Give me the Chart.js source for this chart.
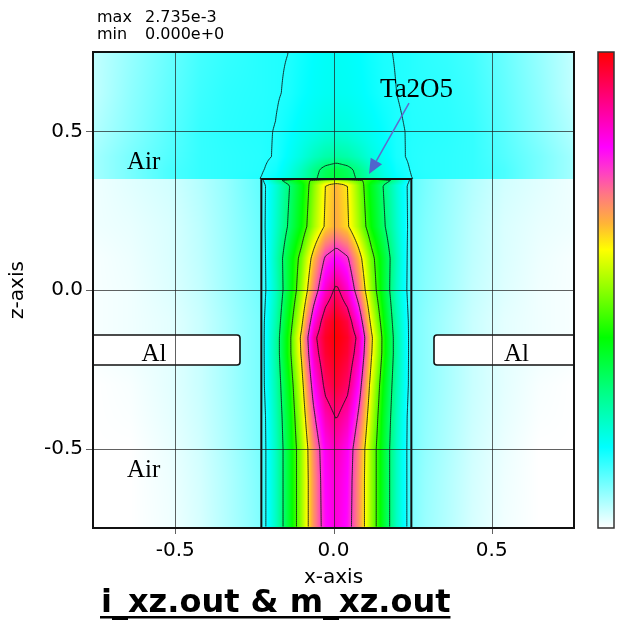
<!DOCTYPE html>
<html><head><meta charset="utf-8">
<script src="https://cdn.jsdelivr.net/npm/chart.js@4.4.1/dist/chart.umd.min.js"></script>
<style>html,body{margin:0;padding:0;background:#fff;}#wrap{width:628px;height:620px;}</style>
</head><body><div id="wrap"><canvas id="c" width="628" height="620"></canvas></div>
<script>
// ---- data (field normalised to max) ----
const FIELD_MAX_TEXT = '2.735e-3';
const FIELD_MIN_TEXT = '0.000e+0';
const X_TICKS = [-0.5, 0, 0.5];
const Z_TICKS = [-0.5, 0, 0.5];
const X_NODES = [-0.76,-0.64,-0.52,-0.42,-0.34,-0.28,-0.230,-0.226,-0.181,-0.141,-0.101,-0.061,-0.026,0.009,0.044,0.079,0.119,0.159,0.199,0.244,0.248,0.29,0.36,0.44,0.54,0.65,0.76];
const Z_NODES = [0.75,0.62,0.5,0.42,0.38,0.351,0.349,0.33,0.2,0.1,0,-0.1,-0.15,-0.2,-0.3,-0.4,-0.5,-0.6,-0.75];
const FIELD = [
 [0.04,0.07,0.10,0.125,0.135,0.14,0.145, 0.145,0.148,0.15,0.16,0.17,0.175,0.178,0.175,0.17,0.16,0.152,0.149,0.146, 0.145,0.14,0.135,0.125,0.10,0.07,0.04],
 [0.04,0.075,0.105,0.13,0.14,0.143,0.145, 0.145,0.148,0.153,0.165,0.175,0.18,0.182,0.18,0.175,0.165,0.155,0.15,0.146, 0.145,0.143,0.14,0.13,0.105,0.075,0.04],
 [0.05,0.08,0.11,0.135,0.142,0.145,0.147, 0.147,0.151,0.165,0.18,0.19,0.2,0.205,0.2,0.19,0.18,0.167,0.153,0.148, 0.147,0.145,0.142,0.135,0.11,0.08,0.05],
 [0.06,0.09,0.115,0.135,0.14,0.143,0.145, 0.146,0.152,0.175,0.2,0.23,0.25,0.26,0.25,0.23,0.2,0.178,0.155,0.147, 0.146,0.143,0.14,0.135,0.115,0.09,0.06],
 [0.06,0.09,0.12,0.135,0.14,0.143,0.146, 0.148,0.16,0.19,0.23,0.28,0.32,0.34,0.32,0.28,0.23,0.19,0.162,0.149, 0.147,0.143,0.14,0.135,0.12,0.09,0.06],
 [0.06,0.09,0.12,0.135,0.14,0.145,0.15, 0.152,0.17,0.2,0.24,0.29,0.33,0.35,0.33,0.29,0.24,0.2,0.17,0.152, 0.15,0.145,0.14,0.135,0.12,0.09,0.06],
 [0.01,0.02,0.03,0.05,0.07,0.09,0.105, 0.14,0.27,0.36,0.42,0.46,0.49,0.5,0.49,0.46,0.42,0.36,0.27,0.14, 0.105,0.09,0.07,0.05,0.03,0.02,0.01],
 [0.01,0.02,0.03,0.05,0.07,0.09,0.105, 0.13,0.21,0.295,0.38,0.5,0.6,0.64,0.6,0.5,0.38,0.295,0.21,0.13, 0.105,0.09,0.07,0.05,0.03,0.02,0.01],
 [0.01,0.015,0.025,0.045,0.067,0.085,0.1, 0.13,0.22,0.31,0.4,0.52,0.61,0.65,0.61,0.52,0.4,0.31,0.22,0.13, 0.1,0.085,0.067,0.045,0.025,0.015,0.01],
 [0.005,0.012,0.024,0.043,0.065,0.083,0.098, 0.12,0.24,0.36,0.48,0.64,0.76,0.8,0.76,0.64,0.48,0.36,0.24,0.12, 0.098,0.083,0.065,0.043,0.024,0.012,0.005],
 [0.005,0.01,0.022,0.04,0.063,0.081,0.095, 0.12,0.23,0.36,0.51,0.7,0.84,0.92,0.84,0.7,0.51,0.36,0.23,0.12, 0.095,0.081,0.063,0.04,0.022,0.01,0.005],
 [0.005,0.01,0.018,0.036,0.058,0.077,0.09, 0.13,0.25,0.4,0.58,0.82,0.95,0.99,0.95,0.82,0.58,0.4,0.25,0.13, 0.09,0.077,0.058,0.036,0.018,0.01,0.005],
 [0.005,0.01,0.018,0.036,0.058,0.077,0.09, 0.13,0.26,0.42,0.62,0.88,0.97,1.0,0.97,0.88,0.62,0.42,0.26,0.13, 0.09,0.077,0.058,0.036,0.018,0.01,0.005],
 [0.005,0.01,0.018,0.036,0.058,0.077,0.09, 0.13,0.26,0.42,0.61,0.86,0.96,0.99,0.96,0.86,0.61,0.42,0.26,0.13, 0.09,0.077,0.058,0.036,0.018,0.01,0.005],
 [0,0.005,0.018,0.036,0.058,0.077,0.09, 0.13,0.25,0.39,0.57,0.8,0.92,0.96,0.92,0.8,0.57,0.39,0.25,0.13, 0.09,0.077,0.058,0.036,0.018,0.005,0],
 [0,0.003,0.016,0.034,0.056,0.075,0.09, 0.12,0.24,0.37,0.54,0.74,0.86,0.905,0.86,0.74,0.54,0.37,0.24,0.12, 0.09,0.075,0.056,0.034,0.016,0.003,0],
 [0,0,0.013,0.031,0.054,0.073,0.09, 0.12,0.23,0.36,0.51,0.69,0.81,0.86,0.81,0.69,0.51,0.36,0.23,0.12, 0.09,0.073,0.054,0.031,0.013,0,0],
 [0,0,0.011,0.029,0.051,0.07,0.087, 0.12,0.23,0.36,0.51,0.68,0.8,0.84,0.8,0.68,0.51,0.36,0.23,0.12, 0.087,0.07,0.051,0.029,0.011,0,0],
 [0,0,0.009,0.027,0.05,0.068,0.085, 0.12,0.23,0.36,0.51,0.68,0.79,0.83,0.79,0.68,0.51,0.36,0.23,0.12, 0.085,0.068,0.05,0.027,0.009,0,0]
];
const CONTOUR_LEVELS = [0.15, 0.3, 0.45, 0.6, 0.75, 0.9];
// structures (data coordinates)
const PILLAR = {x0:-0.228, x1:0.246, z0:-0.75, z1:0.35};
const AL_LEFT = {x0:-0.76, x1:-0.2955, z0:-0.2363, z1:-0.1418};
const AL_RIGHT = {x0:0.3176, x1:0.76, z0:-0.2363, z1:-0.1418};
const REGION_LABELS = [
  {text:'Air', x:-0.6526, z:0.381},
  {text:'Air', x:-0.6526, z:-0.589},
  {text:'Al', x:-0.6067, z:-0.225},
  {text:'Al', x:0.5388, z:-0.225},
  {text:'Ta2O5', x:0.147, z:0.609, big:true}
];
const ARROW = {from:[0.2386,0.589], to:[0.1122,0.3655]};

// ---- colour map ----
const CMAP = [[0,[255,255,255]],[0.17,[0,255,255]],[0.29,[0,255,128]],[0.4,[0,255,0]],[0.5,[140,255,0]],[0.585,[255,255,0]],[0.64,[255,180,55]],[0.7,[255,120,130]],[0.75,[255,60,200]],[0.8,[255,0,255]],[0.9,[255,0,128]],[1,[255,0,0]]];
function cmap(v){
  if (v<=0) return CMAP[0][1];
  for (let k=1;k<CMAP.length;k++){
    if (v<=CMAP[k][0]){
      const a=CMAP[k-1], b=CMAP[k], t=(v-a[0])/(b[0]-a[0]);
      return [0,1,2].map(i=>a[1][i]+(b[1][i]-a[1][i])*t);
    }
  }
  return CMAP[CMAP.length-1][1];
}
function locAsc(arr, v){
  if (v<=arr[0]) return [0,0];
  const n=arr.length;
  if (v>=arr[n-1]) return [n-2,1];
  let i=0; while(v>arr[i+1]) i++;
  return [i,(v-arr[i])/(arr[i+1]-arr[i])];
}
function locDesc(arr, v){
  const n=arr.length;
  if (v>=arr[0]) return [0,0];
  if (v<=arr[n-1]) return [n-2,1];
  let i=0; while(v<arr[i+1]) i++;
  return [i,(arr[i]-v)/(arr[i]-arr[i+1])];
}

const fieldPlugin = {
  id:'fieldmap',
  beforeDatasetsDraw(chart){
    const {ctx, chartArea:a, scales:{x, y}} = chart;
    const W=Math.round(a.right-a.left), H=Math.round(a.bottom-a.top);
    const vals=new Float32Array(W*H);
    const off=document.createElement('canvas'); off.width=W; off.height=H;
    const octx=off.getContext('2d'); const img=octx.createImageData(W,H);
    const xl=[]; for(let i=0;i<W;i++) xl.push(locAsc(X_NODES, x.getValueForPixel(a.left+i+0.5)));
    for(let j=0;j<H;j++){
      const [zi,zt]=locDesc(Z_NODES, y.getValueForPixel(a.top+j+0.5));
      const r0=FIELD[zi], r1=FIELD[zi+1];
      for(let i=0;i<W;i++){
        const [xi,xt]=xl[i];
        const v0=r0[xi]+(r0[xi+1]-r0[xi])*xt, v1=r1[xi]+(r1[xi+1]-r1[xi])*xt;
        const v=v0+(v1-v0)*zt; vals[j*W+i]=v;
        const c=cmap(v), p=(j*W+i)*4;
        img.data[p]=c[0]; img.data[p+1]=c[1]; img.data[p+2]=c[2]; img.data[p+3]=255;
      }
    }
    octx.putImageData(img,0,0);
    ctx.save();
    ctx.drawImage(off,a.left,a.top);
    // contours (marching squares)
    const step=2;
    ctx.beginPath();
    const seg=(p,q)=>{ctx.moveTo(p[0],p[1]);ctx.lineTo(q[0],q[1]);};
    for(const L of CONTOUR_LEVELS){
      for(let j=0;j+step<H;j+=step){
        for(let i=0;i+step<W;i+=step){
          const tl=vals[j*W+i], tr=vals[j*W+i+step], br=vals[(j+step)*W+i+step], bl=vals[(j+step)*W+i];
          let c=0; if(tl>=L)c|=8; if(tr>=L)c|=4; if(br>=L)c|=2; if(bl>=L)c|=1;
          if(c===0||c===15) continue;
          const px=a.left+i+0.5, py=a.top+j+0.5;
          const T=()=>[px+step*(L-tl)/(tr-tl),py];
          const R=()=>[px+step,py+step*(L-tr)/(br-tr)];
          const B=()=>[px+step*(L-bl)/(br-bl),py+step];
          const Lf=()=>[px,py+step*(L-tl)/(bl-tl)];
          switch(c){
            case 1: case 14: seg(Lf(),B()); break;
            case 2: case 13: seg(B(),R()); break;
            case 3: case 12: seg(Lf(),R()); break;
            case 4: case 11: seg(T(),R()); break;
            case 5: seg(Lf(),T()); seg(B(),R()); break;
            case 6: case 9: seg(T(),B()); break;
            case 7: case 8: seg(Lf(),T()); break;
            case 10: seg(T(),R()); seg(Lf(),B()); break;
          }
        }
      }
    }
    ctx.strokeStyle='rgba(10,20,20,0.85)'; ctx.lineWidth=1; ctx.stroke();

    // pillar outline
    const px0=x.getPixelForValue(PILLAR.x0), px1=x.getPixelForValue(PILLAR.x1), pz1=y.getPixelForValue(PILLAR.z1);
    ctx.beginPath(); ctx.moveTo(px0,a.bottom); ctx.lineTo(px0,pz1); ctx.lineTo(px1,pz1); ctx.lineTo(px1,a.bottom);
    ctx.strokeStyle='#111'; ctx.lineWidth=2; ctx.stroke();

    // Al blocks
    const alBox=(b,leftSide)=>{
      const X0=x.getPixelForValue(b.x0), X1=x.getPixelForValue(b.x1), Y0=y.getPixelForValue(b.z1), Y1=y.getPixelForValue(b.z0), r=3;
      ctx.beginPath();
      if(leftSide){ ctx.moveTo(X0,Y0); ctx.lineTo(X1-r,Y0); ctx.quadraticCurveTo(X1,Y0,X1,Y0+r); ctx.lineTo(X1,Y1-r); ctx.quadraticCurveTo(X1,Y1,X1-r,Y1); ctx.lineTo(X0,Y1); }
      else { ctx.moveTo(X1,Y0); ctx.lineTo(X0+r,Y0); ctx.quadraticCurveTo(X0,Y0,X0,Y0+r); ctx.lineTo(X0,Y1-r); ctx.quadraticCurveTo(X0,Y1,X0+r,Y1); ctx.lineTo(X1,Y1); }
      ctx.fillStyle='#fff'; ctx.fill();
      ctx.strokeStyle='#111'; ctx.lineWidth=1.6; ctx.stroke();
    };
    alBox(AL_LEFT,true); alBox(AL_RIGHT,false);

    // grid lines with outward ticks
    ctx.strokeStyle='rgba(30,30,30,0.7)'; ctx.lineWidth=1;
    ctx.beginPath();
    for(const v of X_TICKS){ const p=Math.round(x.getPixelForValue(v))+0.5; ctx.moveTo(p,a.top); ctx.lineTo(p,a.bottom+6); }
    for(const v of Z_TICKS){ const p=Math.round(y.getPixelForValue(v))+0.5; ctx.moveTo(a.left-7,p); ctx.lineTo(a.right,p); }
    ctx.stroke();

    // frame
    ctx.strokeStyle='#111'; ctx.lineWidth=2; ctx.strokeRect(a.left,a.top,a.right-a.left,a.bottom-a.top);

    // region labels
    ctx.fillStyle='#000'; ctx.textBaseline='alphabetic'; ctx.textAlign='left';
    for(const l of REGION_LABELS){
      ctx.font=(l.big?'27px':'25px')+' "Liberation Serif", "DejaVu Serif", serif';
      ctx.fillText(l.text, x.getPixelForValue(l.x), y.getPixelForValue(l.z));
    }
    // arrow
    const ax0=x.getPixelForValue(ARROW.from[0]), ay0=y.getPixelForValue(ARROW.from[1]);
    const ax1=x.getPixelForValue(ARROW.to[0]), ay1=y.getPixelForValue(ARROW.to[1]);
    const ang=Math.atan2(ay1-ay0, ax1-ax0), hl=15, hw=6.5;
    const bx=ax1-hl*Math.cos(ang), by=ay1-hl*Math.sin(ang);
    ctx.strokeStyle='rgb(95,105,205)'; ctx.lineWidth=1.5;
    ctx.beginPath(); ctx.moveTo(ax0,ay0); ctx.lineTo(bx,by); ctx.stroke();
    ctx.fillStyle='rgb(80,100,205)';
    ctx.beginPath(); ctx.moveTo(ax1,ay1);
    ctx.lineTo(bx+hw*Math.sin(ang), by-hw*Math.cos(ang));
    ctx.lineTo(bx-hw*Math.sin(ang), by+hw*Math.cos(ang)); ctx.closePath(); ctx.fill();

    // colour bar
    const cbx=598, cbw=16;
    const g=ctx.createLinearGradient(0,a.bottom,0,a.top);
    for(const s of CMAP) g.addColorStop(s[0], 'rgb('+s[1].join(',')+')');
    ctx.fillStyle=g; ctx.fillRect(cbx,a.top,cbw,a.bottom-a.top);
    ctx.strokeStyle='#333'; ctx.lineWidth=1.5; ctx.strokeRect(cbx,a.top,cbw,a.bottom-a.top);

    // header
    ctx.fillStyle='#000'; ctx.font='16px "DejaVu Sans", sans-serif';
    ctx.fillText('max',97,22); ctx.fillText(FIELD_MAX_TEXT,145,22);
    ctx.fillText('min',97,39); ctx.fillText(FIELD_MIN_TEXT,145,39);

    // title (underlined)
    ctx.font='bold 32px "DejaVu Sans", sans-serif';
    const tt='i_xz.out & m_xz.out'; const tw=ctx.measureText(tt).width;
    ctx.fillText(tt,101,612);
    ctx.fillRect(100,616,tw+1,2.5);
    ctx.restore();
  }
};

const tickFont={family:'"DejaVu Sans", sans-serif', size:20};
new Chart(document.getElementById('c'), {
  type:'scatter',
  data:{datasets:[]},
  options:{
    responsive:false, animation:false,
    layout:{padding:{top:52,right:54,bottom:0,left:0}},
    plugins:{legend:{display:false}, tooltip:{enabled:false}},
    scales:{
      x:{type:'linear', min:-0.76, max:0.76,
        afterBuildTicks:s=>{s.ticks=X_TICKS.map(v=>({value:v}));},
        afterFit:s=>{s.height=92;},
        grid:{display:false, drawTicks:false}, border:{display:false},
        ticks:{callback:v=>Number(v).toFixed(1), font:tickFont, color:'#000', padding:11, maxRotation:0, autoSkip:false},
        title:{display:true, text:'x-axis', font:tickFont, color:'#000', padding:{top:0,bottom:30}}},
      y:{type:'linear', min:-0.75, max:0.75,
        afterBuildTicks:s=>{s.ticks=Z_TICKS.map(v=>({value:v}));},
        afterFit:s=>{s.width=93;},
        grid:{display:false, drawTicks:false}, border:{display:false},
        ticks:{callback:v=>Number(v).toFixed(1), font:tickFont, color:'#000', padding:10, autoSkip:false},
        title:{display:true, text:'z-axis', font:tickFont, color:'#000', padding:{top:6,bottom:0}}}
    }
  },
  plugins:[fieldPlugin]
});
</script></body></html>
